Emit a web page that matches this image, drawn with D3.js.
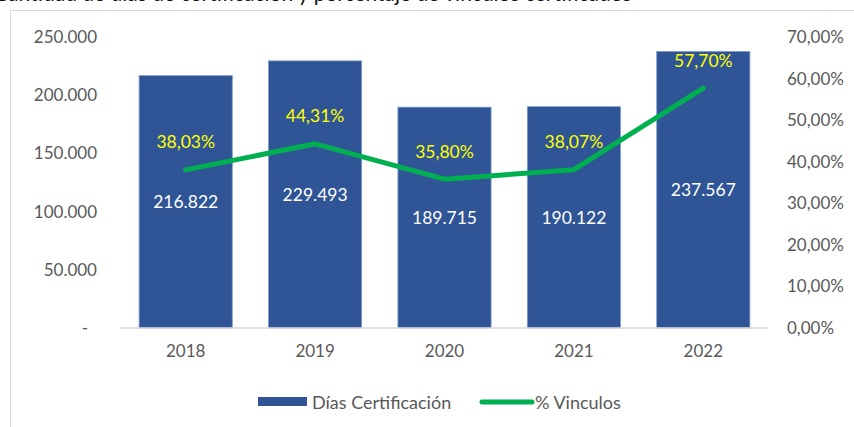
<!DOCTYPE html>
<html><head><meta charset="utf-8">
<script src="https://cdn.jsdelivr.net/npm/d3@7"></script>
<style>body{margin:0;background:#fff}svg{display:block}</style>
</head><body>
<svg id="c" width="854" height="427"></svg>
<script>
const years = ["2018","2019","2020","2021","2022"];
const dias = [216822, 229493, 189715, 190122, 237567];
const vinculos = [0.3803, 0.4431, 0.3580, 0.3807, 0.5770];
const leftTicks = [0, 50000, 100000, 150000, 200000, 250000];
const rightTicks = [0, 0.1, 0.2, 0.3, 0.4, 0.5, 0.6, 0.7];
const titleText = "Cantidad de días de certificación y porcentaje de vínculos certificados";
const legendLabels = ["Días Certificación", "% Vinculos"];

const FONT = "Lato, 'Open Sans', sans-serif";
const GRAY = "#595959";
const loc = d3.formatLocale({decimal:",", thousands:".", grouping:[3], currency:["","€"], percent:"%"});
const fmtN = loc.format(",d");
const fmtP = loc.format(".2%");

const svg = d3.select("#c");
svg.append("rect").attr("x",10.5).attr("y",10.5).attr("width",900).attr("height",500)
  .attr("fill","none").attr("stroke","#D9D9D9");
svg.append("text").attr("x",-6).attr("y",0.5).attr("font-family",FONT).attr("font-size",21)
  .attr("fill","#111").text(titleText);

const x = d3.scaleBand().domain(years).range([121,768]).paddingInner(0.28).paddingOuter(0.14);
const yL = d3.scaleLinear().domain([0,250000]).range([328,37]);
const yR = d3.scaleLinear().domain([0,0.7]).range([328,37]);

// left axis
const gl = svg.append("g").attr("transform","translate(120,0)")
  .call(d3.axisLeft(yL).tickValues(leftTicks).tickSize(0).tickPadding(23)
    .tickFormat(d => d === 0 ? "-" : fmtN(d)));
gl.select(".domain").remove();
gl.selectAll("text").attr("font-family",FONT).attr("font-size",17).attr("fill",GRAY)
  .attr("dx", d => d === 0 ? -9 : 0);

// right axis
const gr = svg.append("g").attr("transform","translate(768,0)")
  .call(d3.axisRight(yR).tickValues(rightTicks).tickSize(0).tickPadding(19).tickFormat(fmtP));
gr.select(".domain").remove();
gr.selectAll("text").attr("font-family",FONT).attr("font-size",17).attr("fill",GRAY);

// bars
svg.append("g").selectAll("rect").data(years).join("rect")
  .attr("x", d => x(d)).attr("width", x.bandwidth())
  .attr("y", (d,i) => yL(dias[i])).attr("height", (d,i) => yL(0) - yL(dias[i]))
  .attr("fill","#2F5597").attr("stroke","#7F9BCB").attr("stroke-width",0.8);

// bottom axis
const gb = svg.append("g").attr("transform","translate(0,328)")
  .call(d3.axisBottom(x).tickSize(0).tickPadding(17));
gb.select(".domain").attr("stroke","#D9D9D9").attr("stroke-width",1.5).attr("d","M120,0H768");
gb.selectAll("text").attr("font-family",FONT).attr("font-size",17).attr("fill",GRAY);

// bar labels
svg.append("g").selectAll("text").data(years).join("text")
  .attr("x", d => x(d) + x.bandwidth()/2)
  .attr("y", (d,i) => (yL(0) + yL(dias[i]))/2)
  .attr("text-anchor","middle").attr("dominant-baseline","central")
  .attr("font-family",FONT).attr("font-size",17.5).attr("fill","#fff")
  .text((d,i) => fmtN(dias[i]));

// line
const line = d3.line().x((d,i) => x(years[i]) + x.bandwidth()/2).y(d => yR(d));
svg.append("path").datum(vinculos).attr("d", line).attr("fill","none")
  .attr("stroke","#00B050").attr("stroke-width",5).attr("stroke-linecap","round").attr("stroke-linejoin","round");

svg.append("g").selectAll("text").data(vinculos).join("text")
  .attr("x", (d,i) => x(years[i]) + x.bandwidth()/2)
  .attr("y", d => yR(d) - 28)
  .attr("text-anchor","middle").attr("dominant-baseline","central")
  .attr("font-family",FONT).attr("font-size",17.5).attr("fill","#FFFF00")
  .text(d => fmtP(d));

// legend
const lg = svg.append("g");
lg.append("rect").attr("x",258).attr("y",397).attr("width",49).attr("height",9).attr("fill","#2F5597");
lg.append("text").attr("x",312).attr("y",402).attr("dominant-baseline","central")
  .attr("font-family",FONT).attr("font-size",18).attr("fill",GRAY).text(legendLabels[0]);
lg.append("line").attr("x1",482).attr("x2",532).attr("y1",402).attr("y2",402)
  .attr("stroke","#00B050").attr("stroke-width",5).attr("stroke-linecap","round");
lg.append("text").attr("x",535).attr("y",402).attr("dominant-baseline","central")
  .attr("font-family",FONT).attr("font-size",18).attr("fill",GRAY).text(legendLabels[1]);
</script>
</body></html>
